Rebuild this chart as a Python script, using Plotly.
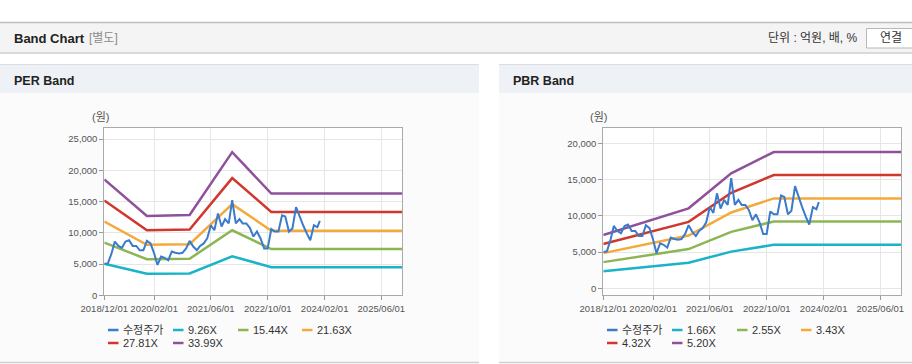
import pandas as pd
import plotly.graph_objects as go

W, H = 912, 364

# ---------------- data ----------------
price_dates = list(pd.date_range("2018-12-01", periods=61, freq="MS").strftime("%Y-%m-%d")) + ["2023-12-22"]
price = [5000, 5100, 6700, 8600, 7900, 7600, 8600, 8800, 7900, 7900,
         7200, 7200, 8700, 8300, 6700, 4850, 6200, 6000, 5600, 7000,
         6800, 6700, 6800, 7500, 8700, 7800, 7200, 7900, 8300, 9100,
         11200, 10400, 13100, 11000, 12200, 11500, 15200, 11500, 12200, 11500,
         11500, 10800, 9400, 10200, 9100, 7500, 7500, 10600, 10200, 10200,
         12800, 12600, 10200, 10700, 14100, 12600, 11200, 9900, 8800, 11200,
         10900, 11900]

per_dates = ["2018-12-01", "2019-12-01", "2020-12-01", "2021-12-01", "2022-11-01", "2025-11-25"]
per_9_26 = [5050, 3460, 3500, 6240, 4500, 4500]
per_15_44 = [8430, 5770, 5840, 10400, 7400, 7400]
per_21_63 = [11800, 8080, 8180, 14570, 10330, 10330]
per_27_81 = [15180, 10390, 10510, 18740, 13340, 13340]
per_33_99 = [18550, 12700, 12850, 22900, 16280, 16280]

pbr_dates = ["2018-12-01", "2020-12-01", "2021-12-01", "2022-12-01", "2025-11-25"]
pbr_1_66 = [2350, 3520, 5060, 6000, 6000]
pbr_2_55 = [3610, 5410, 7780, 9220, 9220]
pbr_3_43 = [4850, 7280, 10460, 12400, 12400]
pbr_4_32 = [6110, 9160, 13180, 15620, 15620]
pbr_5_20 = [7360, 11030, 15860, 18800, 18800]

per_names = ["9.26X", "15.44X", "21.63X", "27.81X", "33.99X"]
pbr_names = ["1.66X", "2.55X", "3.43X", "4.32X", "5.20X"]
price_name = "수정주가"

x_tickvals = ["2018-12-01", "2020-02-01", "2021-06-01", "2022-10-01", "2024-02-01", "2025-06-01"]
x_ticktext = ["2018/12/01", "2020/02/01", "2021/06/01", "2022/10/01", "2024/02/01", "2025/06/01"]
x_range = ["2018-12-01", "2025-11-25"]
per_yticks = [0, 5000, 10000, 15000, 20000, 25000]
pbr_yticks = [0, 5000, 10000, 15000, 20000]

band_colors = ["#1ab3c8", "#8cb653", "#f4aa3b", "#d0372d", "#8f519b"]
price_color = "#3a7bcc"

FONT = "Liberation Sans, Arial, Noto Sans CJK KR, sans-serif"


def X(px):
    return px / W


def Y(py):
    return 1 - py / H


fig = go.Figure()

per_bands = [per_9_26, per_15_44, per_21_63, per_27_81, per_33_99]
pbr_bands = [pbr_1_66, pbr_2_55, pbr_3_43, pbr_4_32, pbr_5_20]

for i, (nm, vals) in enumerate(zip(per_names, per_bands)):
    fig.add_trace(go.Scatter(x=per_dates, y=vals, name=nm, mode="lines",
                             line=dict(color=band_colors[i], width=2.5),
                             xaxis="x", yaxis="y", showlegend=False))
fig.add_trace(go.Scatter(x=price_dates, y=price, name=price_name, mode="lines",
                         line=dict(color=price_color, width=2),
                         xaxis="x", yaxis="y", showlegend=False))

for i, (nm, vals) in enumerate(zip(pbr_names, pbr_bands)):
    fig.add_trace(go.Scatter(x=pbr_dates, y=vals, name=nm, mode="lines",
                             line=dict(color=band_colors[i], width=2.5),
                             xaxis="x2", yaxis="y2", showlegend=False))
fig.add_trace(go.Scatter(x=price_dates, y=price, name=price_name, mode="lines",
                         line=dict(color=price_color, width=2),
                         xaxis="x2", yaxis="y2", showlegend=False))

axis_common = dict(showgrid=True, gridcolor="#e6e6e6", gridwidth=1,
                   showline=True, linecolor="#aaaaaa", linewidth=1, mirror=True,
                   ticks="outside", ticklen=4, tickcolor="#999999",
                   tickfont=dict(family=FONT, size=9.5, color="#555555"),
                   zeroline=False, fixedrange=True, automargin=False)

xcommon = dict(axis_common, type="date", range=x_range, tickvals=x_tickvals,
               ticktext=x_ticktext, tickangle=0)

fig.update_layout(
    width=W, height=H, margin=dict(l=0, r=0, t=0, b=0, pad=0, autoexpand=False), autosize=False,
    paper_bgcolor="white", plot_bgcolor="white", showlegend=False,
    xaxis=dict(xcommon, domain=[X(104.3), X(402)], anchor="y"),
    yaxis=dict(axis_common, domain=[Y(295.3), Y(128)], anchor="x",
               range=[0, 26760], tickvals=per_yticks, tickformat=",d"),
    xaxis2=dict(xcommon, domain=[X(603.3), X(901)], anchor="y2"),
    yaxis2=dict(axis_common, domain=[Y(295.3), Y(128.3)], anchor="x2",
                range=[-966, 22070], tickvals=pbr_yticks, tickformat=",d"),
)

shapes = []
ann = []


def txt(x, y, s, size=12, color="#333333", bold=False, xanchor="left"):
    ann.append(dict(x=X(x), y=Y(y), xref="paper", yref="paper", text=("<b>%s</b>" % s) if bold else s,
                    showarrow=False, xanchor=xanchor, yanchor="middle",
                    font=dict(family=FONT, size=size, color=color)))


# header bar
shapes.append(dict(type="rect", xref="paper", yref="paper", x0=0, x1=1, y0=Y(53), y1=Y(22.5),
                   fillcolor="#f4f4f4", line=dict(width=0), layer="below"))
shapes.append(dict(type="line", xref="paper", yref="paper", x0=0, x1=1, y0=Y(22.5), y1=Y(22.5),
                   line=dict(color="#bdbdbd", width=1.5), layer="below"))
shapes.append(dict(type="line", xref="paper", yref="paper", x0=0, x1=1, y0=Y(53), y1=Y(53),
                   line=dict(color="#cfcfcf", width=1.5), layer="below"))
# button
shapes.append(dict(type="rect", xref="paper", yref="paper", x0=X(866.5), x1=X(925), y0=Y(48), y1=Y(28.5),
                   fillcolor="white", line=dict(color="#b8b8b8", width=1), layer="below"))
# panels
for (a, b) in [(0, 479), (499, 912)]:
    shapes.append(dict(type="rect", xref="paper", yref="paper", x0=X(a), x1=X(b), y0=Y(93), y1=Y(64.5),
                       fillcolor="#eef2f6", line=dict(width=0), layer="below"))
    shapes.append(dict(type="line", xref="paper", yref="paper", x0=X(a), x1=X(b), y0=Y(64.5), y1=Y(64.5),
                       line=dict(color="#dadde1", width=1), layer="below"))
    shapes.append(dict(type="rect", xref="paper", yref="paper", x0=X(a), x1=X(b), y0=Y(362), y1=Y(93),
                       fillcolor="#fbfbfb", line=dict(width=0), layer="below"))
    shapes.append(dict(type="line", xref="paper", yref="paper", x0=X(a), x1=X(b), y0=Y(362.5), y1=Y(362.5),
                       line=dict(color="#d0d0d0", width=1.5), layer="below"))
# white plot areas
for (a, b) in [(104.3, 402), (603.3, 901)]:
    shapes.append(dict(type="rect", xref="paper", yref="paper", x0=X(a), x1=X(b), y0=Y(295.3), y1=Y(128),
                       fillcolor="white", line=dict(width=0), layer="below"))

# legends (swatch + label) for both panels
legend_slots = [(108, 330), (173, 330), (238, 330), (302, 330), (108, 343), (173, 343)]
for off, names in [(0, [price_name] + per_names), (499, [price_name] + pbr_names)]:
    colors = [price_color] + band_colors
    for (lx, ly), nm, c in zip(legend_slots, names, colors):
        shapes.append(dict(type="line", xref="paper", yref="paper",
                           x0=X(lx + off), x1=X(lx + off + 10.5), y0=Y(ly), y1=Y(ly),
                           line=dict(color=c, width=2.5), layer="above"))
        txt(lx + off + 12.5, ly, nm, 11, "#333333")

fig.update_layout(shapes=shapes)

txt(11.5, 38.5, "Band Chart", 13, "#222222", True)
txt(87, 38.5, "[별도]", 12, "#8a8a8a")
txt(860, 38.5, "단위 : 억원, 배, %", 12, "#333333", xanchor="right")
txt(891, 38.5, "연결", 12, "#333333", xanchor="center")
txt(11.5, 80.5, "PER Band", 12.5, "#222222", True)
txt(510.5, 80.5, "PBR Band", 12.5, "#222222", True)
txt(100, 117, "(원)", 11, "#555555", xanchor="center")
txt(598.5, 117, "(원)", 11, "#555555", xanchor="center")
fig.update_layout(annotations=ann)

fig.write_html("out.html", config={"displayModeBar": False},
               post_script="document.body.style.margin='0';document.body.style.padding='0';")
